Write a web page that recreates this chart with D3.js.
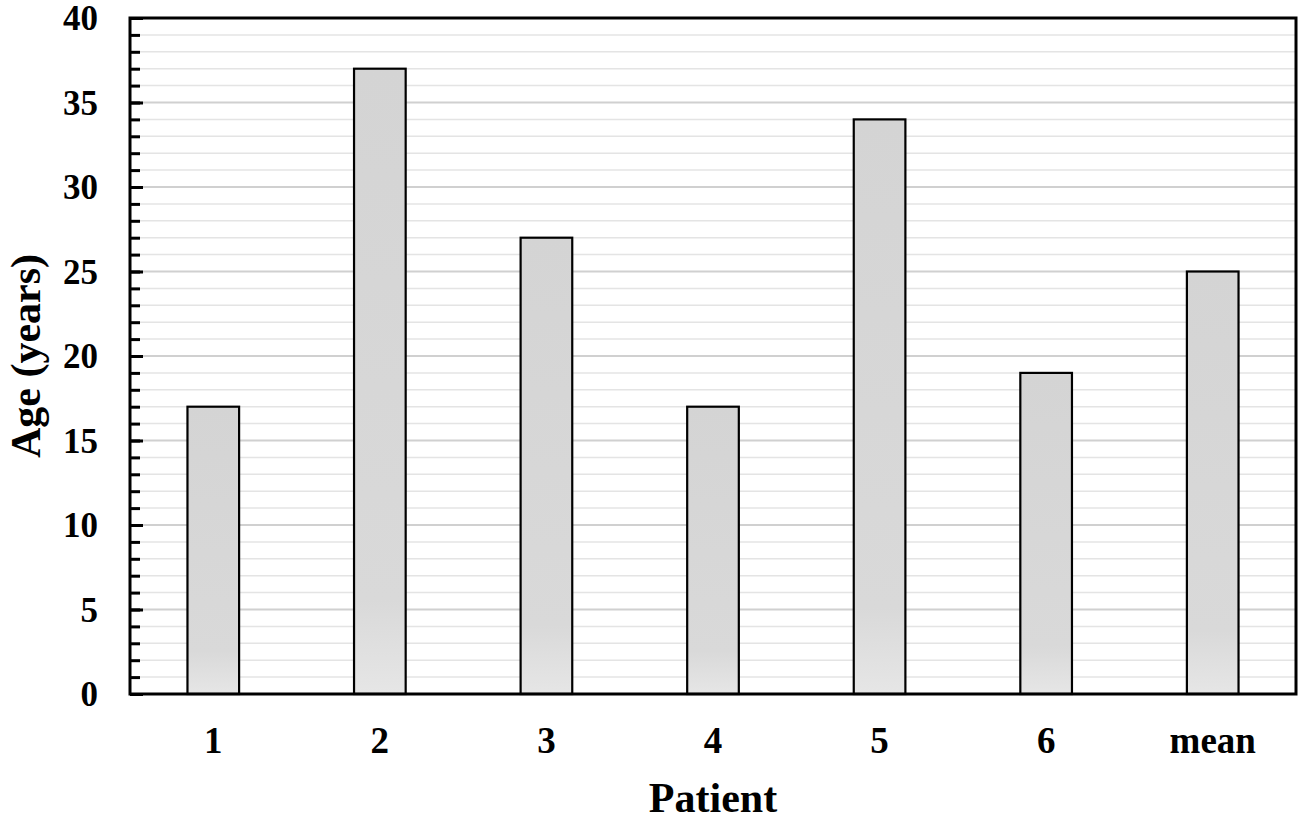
<!DOCTYPE html>
<html>
<head>
<meta charset="utf-8">
<script src="https://cdn.jsdelivr.net/npm/d3@7"></script>
<style>
  html, body { margin: 0; padding: 0; background: #ffffff; }
  svg { display: block; }
  text { font-family: "Liberation Serif", "Times New Roman", serif; font-weight: bold; fill: #000; }
</style>
</head>
<body>
<svg id="chart" width="1310" height="827"></svg>
<script>
const categories = ["1", "2", "3", "4", "5", "6", "mean"];
const ages = [17, 37, 27, 17, 34, 19, 25];
const yMajorTicks = [0, 5, 10, 15, 20, 25, 30, 35, 40];
const yMinorTicks = d3.range(0, 41, 1);
const xTitle = "Patient";
const yTitle = "Age (years)";

const W = 1310, H = 827;
const m = { left: 130, right: 14, top: 18, bottom: 133 };
const svg = d3.select("#chart");

const x = d3.scaleBand().domain(categories).range([m.left, W - m.right]).paddingInner(0.69).paddingOuter(0.345);
const y = d3.scaleLinear().domain([0, 40]).range([H - m.bottom, m.top]);

const defs = svg.append("defs");
const grad = defs.append("linearGradient").attr("id", "barGrad").attr("x1", 0).attr("y1", 0).attr("x2", 0).attr("y2", 1);
grad.append("stop").attr("offset", "0%").attr("stop-color", "#d4d4d4");
grad.append("stop").attr("offset", "85%").attr("stop-color", "#d9d9d9");
grad.append("stop").attr("offset", "100%").attr("stop-color", "#e6e6e6");

// minor gridlines
svg.append("g").selectAll("line").data(yMinorTicks.filter(v => v % 5 !== 0 && v < 40)).join("line")
  .attr("x1", m.left).attr("x2", W - m.right)
  .attr("y1", d => y(d)).attr("y2", d => y(d))
  .attr("stroke", "#e4e4e4").attr("stroke-width", 1.5);
// major gridlines
svg.append("g").selectAll("line").data(yMajorTicks.filter(v => v > 0 && v < 40)).join("line")
  .attr("x1", m.left).attr("x2", W - m.right)
  .attr("y1", d => y(d)).attr("y2", d => y(d))
  .attr("stroke", "#d0d0d0").attr("stroke-width", 1.8);

// bars
svg.append("g").selectAll("rect").data(categories).join("rect")
  .attr("x", d => x(d))
  .attr("y", (d, i) => y(ages[i]))
  .attr("width", x.bandwidth())
  .attr("height", (d, i) => y(0) - y(ages[i]))
  .attr("fill", "url(#barGrad)")
  .attr("stroke", "#000").attr("stroke-width", 2.2);

// y axis minor ticks (inside)
const yAxisMinor = d3.axisRight(y).tickValues(yMinorTicks).tickSize(10).tickFormat("");
const gMinor = svg.append("g").attr("transform", `translate(${m.left},0)`).call(yAxisMinor);
gMinor.select(".domain").remove();
gMinor.selectAll(".tick line").attr("stroke", "#000").attr("stroke-width", 3);

const yAxisMajor = d3.axisRight(y).tickValues(yMajorTicks).tickSize(13).tickFormat("");
const gMajor = svg.append("g").attr("transform", `translate(${m.left},0)`).call(yAxisMajor);
gMajor.select(".domain").remove();
gMajor.selectAll(".tick line").attr("stroke", "#000").attr("stroke-width", 3);

// y tick labels
const yLabels = d3.axisLeft(y).tickValues(yMajorTicks).tickSize(0).tickPadding(32).tickFormat(d3.format("d"));
const gYL = svg.append("g").attr("transform", `translate(${m.left},0)`).call(yLabels);
gYL.select(".domain").remove();
gYL.selectAll("text").attr("font-size", 35).attr("font-family", "Liberation Serif").attr("font-weight", "bold").attr("fill", "#000").attr("dy", "0.34em");

// x tick labels
const xAxis = d3.axisBottom(x).tickSize(0).tickPadding(0);
const gX = svg.append("g").attr("transform", `translate(0,${H - m.bottom})`).call(xAxis);
gX.select(".domain").remove();
gX.selectAll("text").attr("font-size", 37).attr("font-family", "Liberation Serif").attr("font-weight", "bold").attr("fill", "#000").attr("y", 59).attr("dy", 0);

// frame
svg.append("rect").attr("x", m.left).attr("y", m.top)
  .attr("width", W - m.left - m.right).attr("height", H - m.top - m.bottom)
  .attr("fill", "none").attr("stroke", "#000").attr("stroke-width", 3);

// axis titles
svg.append("text").attr("x", (m.left + W - m.right) / 2).attr("y", 812)
  .attr("text-anchor", "middle").attr("font-size", 42).text(xTitle);
svg.append("text").attr("transform", `translate(40,${(m.top + H - m.bottom) / 2}) rotate(-90)`)
  .attr("text-anchor", "middle").attr("font-size", 42).text(yTitle);
</script>
</body>
</html>
